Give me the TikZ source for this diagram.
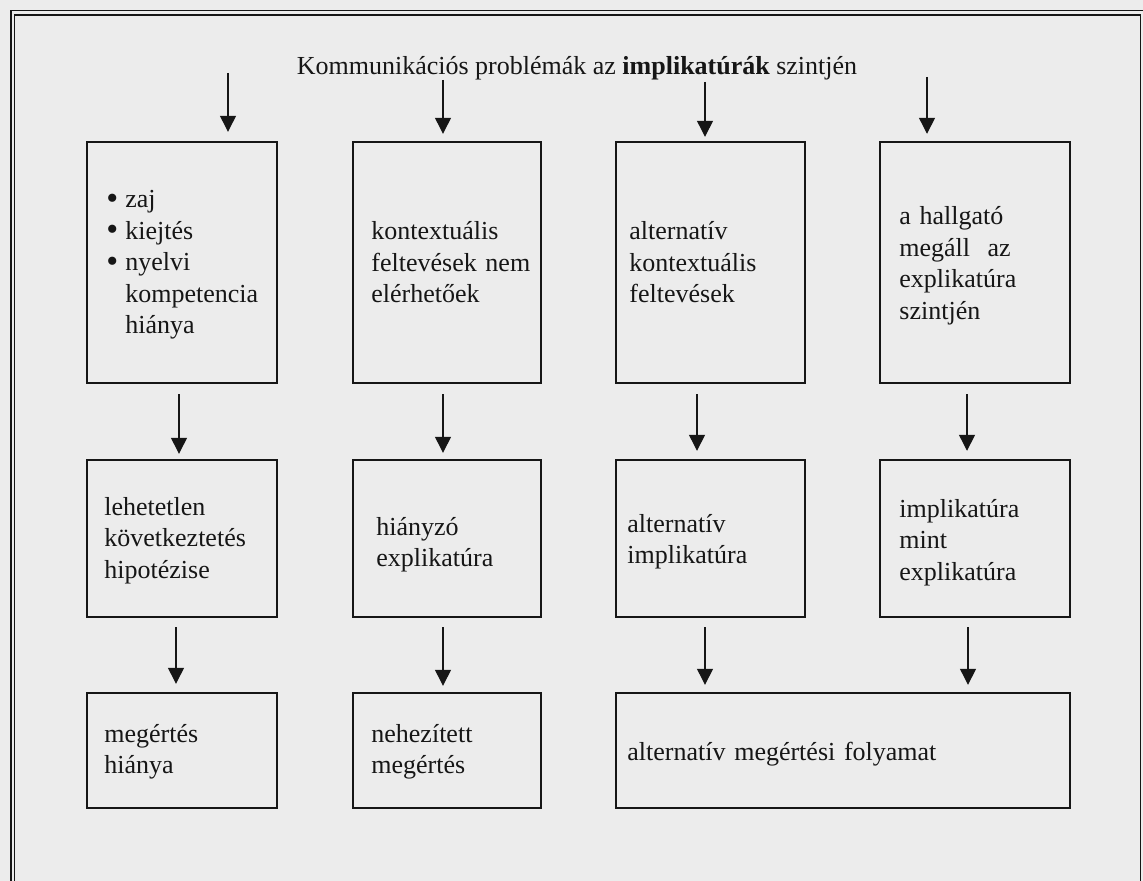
\documentclass[tikz,border=0pt]{standalone}
\usepackage{fontspec}
\setmainfont{Liberation Serif}
\usetikzlibrary{arrows.meta,fit}
\definecolor{paper}{RGB}{236,236,236}
\definecolor{ink}{RGB}{22,22,22}
\newcommand{\bigbullet}{\raisebox{-0.6pt}{\fontsize{17}{15.75}\selectfont\textbullet}}
\begin{document}
\begin{tikzpicture}[x=0.5pt,y=-0.5pt,
  box/.style={draw=ink,line width=1.2pt,inner sep=0pt},
  txt/.style={anchor=base west,inner sep=0pt,text width=120pt,align=left,
    font=\fontsize{13}{15.75}\selectfont,text=ink},
  headline/.style={anchor=base,inner sep=0pt,font=\fontsize{13}{15.75}\selectfont,text=ink},
  arr/.style={draw=ink,line width=0.65pt,-{Triangle[width=8pt,length=8pt]}},
  frameline/.style={draw=ink,line width=0.8pt}]
\useasboundingbox (0,0) rectangle (1143,881);
\clip (0,0) rectangle (1143,881);
\fill[paper] (0,0) rectangle (1143,881);

% double frame, running off the right and bottom edges
\draw[frameline] (11,10.7) rectangle (1146,900);
\draw[frameline] (14.5,15) rectangle (1140.5,900);

% heading
\node[headline] (title) at (577,75) {Kommunikációs problémák az \textbf{implikatúrák} szintjén};

% first row
\node[box,fit={(87,142) (277,383)}] (r1c1) {};
\node[box,fit={(353,142) (541,383)}] (r1c2) {};
\node[box,fit={(616,142) (805,383)}] (r1c3) {};
\node[box,fit={(880,142) (1070,383)}] (r1c4) {};

% second row
\node[box,fit={(87,460) (277,617)}] (r2c1) {};
\node[box,fit={(353,460) (541,617)}] (r2c2) {};
\node[box,fit={(616,460) (805,617)}] (r2c3) {};
\node[box,fit={(880,460) (1070,617)}] (r2c4) {};

% third row
\node[box,fit={(87,693) (277,808)}] (r3c1) {};
\node[box,fit={(353,693) (541,808)}] (r3c2) {};
\node[box,fit={(616,693) (1070,808)}] (r3c3) {};

% box texts
\node[txt,text width=10pt] (b11) at (106,208) {\bigbullet\\ \bigbullet\\ \bigbullet};
\node[txt] (t11) at (125,208) {zaj\\ kiejtés\\ nyelvi\\ kompetencia\\ hiánya};
\node[txt] (t12) at (371,240) {kontextuális\\ feltevések nem\\ elérhetőek};
\node[txt] (t13) at (629,240) {alternatív\\ kontextuális\\ feltevések};
\node[txt] (t14) at (899,225) {a hallgató\\ megáll~ az\\ explikatúra\\ szintjén};

\node[txt] (t21) at (104,515) {lehetetlen\\ következtetés\\ hipotézise};
\node[txt] (t22) at (376,535) {hiányzó\\ explikatúra};
\node[txt] (t23) at (627,532) {alternatív\\ implikatúra};
\node[txt] (t24) at (899,517) {implikatúra\\ mint\\ explikatúra};

\node[txt] (t31) at (104,742) {megértés\\ hiánya};
\node[txt] (t32) at (371,742) {nehezített\\ megértés};
\node[txt,text width=220pt] (t33) at (627,760) {alternatív megértési folyamat};

% arrows from the heading level
\draw[arr,shorten >=4.5pt] (228,73) -- (228,0 |- r1c1.north);
\draw[arr,shorten >=3.5pt] (443,80) -- (443,0 |- r1c2.north);
\draw[arr,shorten >=2pt]   (705,82) -- (705,0 |- r1c3.north);
\draw[arr,shorten >=3.5pt] (927,77) -- (927,0 |- r1c4.north);

% arrows from the first to the second row
\draw[arr,shorten >=2.5pt] (179,0 |- r1c1.south) ++(0,10) -- (179,0 |- r2c1.north);
\draw[arr,shorten >=3pt]   (443,0 |- r1c2.south) ++(0,10) -- (443,0 |- r2c2.north);
\draw[arr,shorten >=4pt]   (697,0 |- r1c3.south) ++(0,10) -- (697,0 |- r2c3.north);
\draw[arr,shorten >=4pt]   (967,0 |- r1c4.south) ++(0,10) -- (967,0 |- r2c4.north);

% arrows from the second to the third row
\draw[arr,shorten >=4pt]   (176,0 |- r2c1.south) ++(0,9) -- (176,0 |- r3c1.north);
\draw[arr,shorten >=3pt]   (443,0 |- r2c2.south) ++(0,9) -- (443,0 |- r3c2.north);
\draw[arr,shorten >=3.5pt] (705,0 |- r2c3.south) ++(0,9) -- (705,0 |- r3c3.north);
\draw[arr,shorten >=3.5pt] (968,0 |- r2c4.south) ++(0,9) -- (968,0 |- r3c3.north);
\end{tikzpicture}
\end{document}
